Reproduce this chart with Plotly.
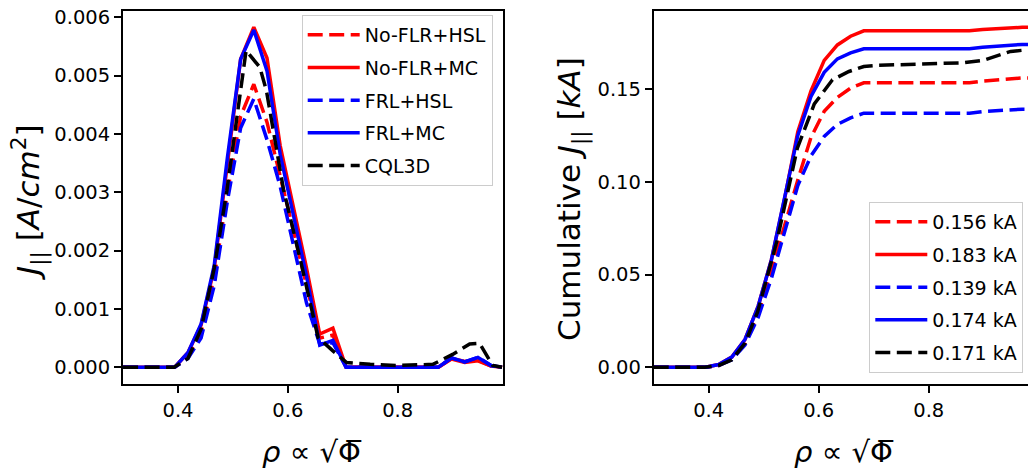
import plotly.graph_objects as go

# ---------------- data ----------------
rho = [0.300, 0.322, 0.346, 0.370, 0.394, 0.418, 0.442, 0.466, 0.490, 0.514,
       0.538, 0.562, 0.586, 0.610, 0.634, 0.658, 0.682, 0.706, 0.730, 0.754,
       0.778, 0.802, 0.826, 0.850, 0.874, 0.898, 0.922, 0.946, 0.970, 0.990]

nofl_hsl_j = [0, 0, 0, 0, 0, 0.20e-3, 0.60e-3, 1.55e-3, 3.00e-3, 4.30e-3,
              4.85e-3, 4.20e-3, 3.30e-3, 2.35e-3, 1.40e-3, 0.50e-3, 0.55e-3, 0, 0, 0,
              0, 0, 0, 0, 0, 0.15e-3, 0.10e-3, 0.12e-3, 0.02e-3, 0]
nofl_mc_j = [0, 0, 0, 0, 0, 0.25e-3, 0.72e-3, 1.70e-3, 3.45e-3, 5.28e-3,
             5.83e-3, 5.30e-3, 3.80e-3, 2.75e-3, 1.70e-3, 0.57e-3, 0.67e-3, 0, 0, 0,
             0, 0, 0, 0, 0, 0.14e-3, 0.08e-3, 0.11e-3, 0.02e-3, 0]
frl_hsl_j = [0, 0, 0, 0, 0, 0.15e-3, 0.50e-3, 1.40e-3, 2.85e-3, 4.10e-3,
             4.60e-3, 3.90e-3, 3.10e-3, 2.10e-3, 1.10e-3, 0.40e-3, 0.42e-3, 0, 0, 0,
             0, 0, 0, 0, 0, 0.16e-3, 0.09e-3, 0.17e-3, 0.03e-3, 0]
frl_mc_j = [0, 0, 0, 0, 0, 0.25e-3, 0.74e-3, 1.75e-3, 3.60e-3, 5.28e-3,
            5.78e-3, 5.08e-3, 3.65e-3, 2.61e-3, 1.56e-3, 0.38e-3, 0.46e-3, 0, 0, 0,
            0, 0, 0, 0, 0, 0.16e-3, 0.09e-3, 0.17e-3, 0.03e-3, 0]

nofl_hsl_cum = [0, 0, 0, 0, 0, 0.0010, 0.0045, 0.0130, 0.0290, 0.0520,
                0.0770, 0.1010, 0.1240, 0.1380, 0.1455, 0.1505, 0.1534, 0.1534, 0.1534, 0.1534,
                0.1534, 0.1534, 0.1534, 0.1534, 0.1534, 0.1543, 0.1549, 0.1556, 0.1560, 0.1560]
nofl_mc_cum = [0, 0, 0, 0, 0, 0.0015, 0.0055, 0.0150, 0.0330, 0.0580,
               0.0910, 0.1270, 0.1490, 0.1655, 0.1738, 0.1785, 0.1814, 0.1814, 0.1814, 0.1814,
               0.1814, 0.1814, 0.1814, 0.1814, 0.1814, 0.1821, 0.1826, 0.1831, 0.1833, 0.1833]
frl_hsl_cum = [0, 0, 0, 0, 0, 0.0010, 0.0040, 0.0120, 0.0270, 0.0480,
               0.0730, 0.0980, 0.1140, 0.1245, 0.1310, 0.1345, 0.1370, 0.1370, 0.1370, 0.1370,
               0.1370, 0.1370, 0.1370, 0.1370, 0.1370, 0.1379, 0.1384, 0.1389, 0.1392, 0.1392]
frl_mc_cum = [0, 0, 0, 0, 0, 0.0015, 0.0055, 0.0150, 0.0330, 0.0580,
              0.0910, 0.1250, 0.1460, 0.1590, 0.1663, 0.1695, 0.1717, 0.1717, 0.1717, 0.1717,
              0.1717, 0.1717, 0.1717, 0.1717, 0.1717, 0.1726, 0.1731, 0.1738, 0.1741, 0.1741]

rho_cql = [0.300, 0.350, 0.393, 0.418, 0.442, 0.466, 0.489, 0.524, 0.549, 0.561,
           0.592, 0.625, 0.655, 0.682, 0.707, 0.750, 0.800, 0.864, 0.900, 0.931,
           0.949, 0.973, 0.990]
cql_j = [0, 0, 0, 0.15e-3, 0.65e-3, 1.70e-3, 3.03e-3, 5.43e-3, 5.14e-3, 4.74e-3,
         3.05e-3, 1.75e-3, 0.51e-3, 0.28e-3, 0.08e-3, 0.05e-3, 0.03e-3, 0.05e-3, 0.22e-3, 0.40e-3,
         0.41e-3, 0.03e-3, 0]
cql_cum = [0, 0, 0, 0.0010, 0.0040, 0.0130, 0.0300, 0.0680, 0.1020, 0.1180,
           0.1420, 0.1550, 0.1595, 0.1622, 0.1628, 0.1632, 0.1636, 0.1642, 0.1656, 0.1685,
           0.1703, 0.1710, 0.1710]

labels = ["No-FLR+HSL", "No-FLR+MC", "FRL+HSL", "FRL+MC", "CQL3D"]
colors = ["#ff0000", "#ff0000", "#0000ff", "#0000ff", "#000000"]
dashed = [True, False, True, False, True]

x_ticks = [0.4, 0.6, 0.8]
y1_ticks = [0.000, 0.001, 0.002, 0.003, 0.004, 0.005, 0.006]
y2_ticks = [0.00, 0.05, 0.10, 0.15]

xs = [rho, rho, rho, rho, rho_cql]
js = [nofl_hsl_j, nofl_mc_j, frl_hsl_j, frl_mc_j, cql_j]
cums = [nofl_hsl_cum, nofl_mc_cum, frl_hsl_cum, frl_mc_cum, cql_cum]

# ---------------- figure ----------------
W, H = 1028, 476
FONT = "DejaVu Sans"
LW = 3.5
DASH = "15px,6.5px"
TICK_SIZE = 19.5
LEG_SIZE = 19

fig = go.Figure()
for i in range(5):
    line = dict(color=colors[i], width=LW, dash=DASH if dashed[i] else "solid")
    fig.add_trace(go.Scatter(x=xs[i], y=js[i], mode="lines", name=labels[i],
                             line=line, xaxis="x", yaxis="y",
                             legend="legend", legendgroup="a%d" % i))
for i in range(5):
    line = dict(color=colors[i], width=LW, dash=DASH if dashed[i] else "solid")
    fig.add_trace(go.Scatter(x=xs[i], y=cums[i], mode="lines",
                             name="%.3f kA" % cums[i][-1],
                             line=line, xaxis="x2", yaxis="y2",
                             legend="legend2", legendgroup="b%d" % i))

ytop = 1 - 5.7 / H
ybot = 1 - 383.3 / H

axis_common = dict(showline=True, linecolor="black", linewidth=1.8,
                   ticks="outside", ticklen=7, tickwidth=1.6, tickcolor="black",
                   showgrid=False, zeroline=False,
                   tickfont=dict(family=FONT, size=TICK_SIZE, color="black"))

legend_common = dict(xanchor="left", yanchor="top",
                     bgcolor="rgba(255,255,255,0.8)", bordercolor="#cccccc", borderwidth=1,
                     font=dict(family=FONT, size=LEG_SIZE, color="black"),
                     tracegroupgap=5, itemwidth=52)

fig.update_layout(
    width=W, height=H,
    margin=dict(l=0, r=0, t=0, b=0),
    paper_bgcolor="white", plot_bgcolor="white",
    font=dict(family=FONT, size=TICK_SIZE, color="black"),
    xaxis=dict(domain=[123 / W, 503 / W], range=[0.29986, 0.9917], anchor="y",
               tickvals=x_ticks, ticktext=["%.1f" % v for v in x_ticks],
               mirror=True, **axis_common),
    yaxis=dict(domain=[ybot, ytop], range=[-0.000292, 0.006112], anchor="x",
               tickvals=y1_ticks, ticktext=["%.3f" % v for v in y1_ticks],
               mirror=True, **axis_common),
    xaxis2=dict(domain=[653.7 / W, 1.0], range=[0.3, 0.9805], anchor="y2",
                tickvals=x_ticks, ticktext=["%.1f" % v for v in x_ticks],
                mirror=True, **axis_common),
    yaxis2=dict(domain=[ybot, ytop], range=[-0.00915, 0.1923], anchor="x2",
                tickvals=y2_ticks, ticktext=["%.2f" % v for v in y2_ticks],
                mirror=False, **axis_common),
    showlegend=True,
    legend=dict(x=301.7 / W, y=1 - 10 / H, **legend_common),
    legend2=dict(x=869.3 / W, y=1 - 199 / H, **legend_common),
)

ytitle_font = dict(family=FONT, size=31, color="black")
xtitle_font = dict(family=FONT, size=29, color="black")
xtitle = "<i>ρ</i> ∝ √Φ\u0305"
fig.add_annotation(text=xtitle, x=312 / W, y=1 - 452 / H, xref="paper", yref="paper",
                   showarrow=False, xanchor="center", yanchor="middle", font=xtitle_font)
fig.add_annotation(text=xtitle, x=844 / W, y=1 - 452 / H, xref="paper", yref="paper",
                   showarrow=False, xanchor="center", yanchor="middle", font=xtitle_font)
fig.add_annotation(text="<i>J</i><sub>||</sub> [<i>A</i>/<i>cm</i><sup>2</sup>]",
                   x=29 / W, y=1 - 200 / H, xref="paper", yref="paper", textangle=-90,
                   showarrow=False, xanchor="center", yanchor="middle", font=ytitle_font)
fig.add_annotation(text="Cumulative <i>J</i><sub>||</sub> [<i>kA</i>]",
                   x=572 / W, y=1 - 196 / H, xref="paper", yref="paper", textangle=-90,
                   showarrow=False, xanchor="center", yanchor="middle", font=ytitle_font)

fig.write_html("out.html")
